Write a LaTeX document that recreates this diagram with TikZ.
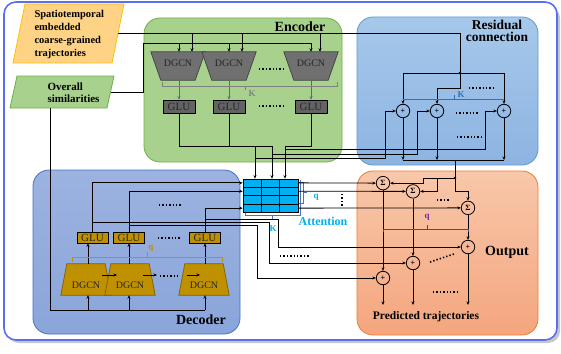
\documentclass[tikz,border=0pt]{standalone}
\usepackage{fontspec}
\setmainfont{Liberation Serif}
\usetikzlibrary{arrows.meta,calc}
\definecolor{encF}{HTML}{A9D18E}
\definecolor{encD}{HTML}{70AD47}
\definecolor{resT}{HTML}{A6C8EA}
\definecolor{resF}{HTML}{8DB4E2}
\definecolor{resD}{HTML}{5B9BD5}
\definecolor{decT}{HTML}{9CB3E0}
\definecolor{decF}{HTML}{8AA5DA}
\definecolor{decD}{HTML}{4472C4}
\definecolor{outT}{HTML}{F8C7AA}
\definecolor{outF}{HTML}{F4A67E}
\definecolor{outD}{HTML}{ED7D31}
\definecolor{gold}{HTML}{BF9000}
\definecolor{goldD}{HTML}{7F6000}
\definecolor{attC}{HTML}{00B0F0}
\definecolor{kblue}{HTML}{2E75B6}
\definecolor{bblue}{HTML}{4472C4}
\definecolor{qpurp}{HTML}{7030A0}
\definecolor{frameB}{HTML}{5B6EF0}
\definecolor{inOr}{HTML}{FFD385}
\definecolor{inOrD}{HTML}{FFC000}
\definecolor{dgE}{HTML}{707070}
\definecolor{gluE}{HTML}{636363}
\definecolor{arrg}{HTML}{55698A}
\begin{document}
\begin{tikzpicture}[x=1pt,y=-1pt,
  wire/.style={draw=black,line width=0.8pt},
  arr/.style={wire,-{Stealth[length=3.5pt,width=3pt]}},
  region/.style={rounded corners=16pt,line width=0.8pt},
  lbl/.style={font=\fontsize{14}{15}\selectfont\bfseries},
  small/.style={font=\fontsize{9}{9}\selectfont\bfseries},
  sumc/.style={circle,draw=black,line width=0.8pt,minimum size=13.5pt,inner sep=0pt,font=\fontsize{8}{8}\selectfont\bfseries},
  eglu/.style={draw=black,line width=0.6pt,fill=gluE,minimum width=32pt,minimum height=13pt,inner sep=0pt,font=\fontsize{11}{11}\selectfont,text=black!85},
  dglu/.style={draw=black,line width=0.6pt,fill=gold,minimum width=31pt,minimum height=11pt,inner sep=0pt,font=\fontsize{11}{11}\selectfont,text=black!85},
  dgbox/.style={minimum width=54pt,minimum height=28pt,inner sep=0pt},
  ddbox/.style={minimum width=50pt,minimum height=31pt,inner sep=0pt},
  dgtxt/.style={font=\fontsize{10}{10}\selectfont,text=black!85},
  dotrow/.style={line width=1.6pt,dash pattern=on 1.4pt off 2pt},
  brk/.style={line width=0.9pt},
]
\useasboundingbox (0,0) rectangle (561,353);
% frame
\fill[black!22,rounded corners=12pt] (7,6) rectangle (560,343);
\draw[fill=white,draw=frameB,line width=1.6pt,rounded corners=12pt] (4,2) rectangle (557,340);
% regions
\draw[region,fill=encF,draw=encD] (144,18) rectangle (342,162);
\draw[region,draw=resD,top color=resT,bottom color=resF] (357,17) rectangle (538,165);
\draw[region,draw=decD,top color=decT,bottom color=decF] (33,170) rectangle (240,334);
\draw[region,draw=outD,top color=outT,bottom color=outF] (357,171) rectangle (538,335);
% region labels
\node[lbl] (encl) at (300,27) {Encoder};
\node[font=\fontsize{13.5}{12}\selectfont\bfseries,align=center,inner sep=0pt] (resl) at (497,31) {Residual\\connection};
\node[lbl] (decl) at (201,320) {Decoder};
\node[lbl] (outl) at (507,252) {Output};
\node[font=\fontsize{11.5}{12}\selectfont\bfseries] (pred) at (426,317) {Predicted trajectories};
% inputs
\draw[fill=inOr,draw=inOrD,line width=0.8pt] (25,4) -- (124,4) -- (112,63) -- (13,63) -- cycle;
\node[anchor=west,align=left,font=\fontsize{10.5}{13}\selectfont\bfseries] (traj) at (31,34) {Spatiotemporal\\embedded\\coarse-grained\\trajectories};
\draw[fill=encF,draw=encD,line width=0.8pt] (17,76) -- (114,76) -- (107,108) -- (10,108) -- cycle;
\node[anchor=west,align=left,font=\fontsize{11}{12}\selectfont\bfseries] (sim) at (44,92.5) {Overall\\similarities};
\coordinate (trajR) at (118,33);
\coordinate (simR) at (110.5,92);
\coordinate (simB) at (50,108);

% ---------------- Encoder
\foreach \n/\cx in {1/178,2/229,3/311}{
  \node[dgbox] (ed\n) at (\cx,66) {};
  \draw[fill=dgE,draw=black!75,line width=0.7pt] (ed\n.north west) -- (ed\n.north east) -- ($(ed\n.south east)+(-10,0)$) -- ($(ed\n.south west)+(10,0)$) -- cycle;
  \node[dgtxt] (edt\n) at (\cx,63) {DGCN};
}
\foreach \n/\cx in {1/179,2/229,3/311}{
  \node[eglu] (eg\n) at (\cx,106.5) {GLU};
  \draw[arr,draw=arrg] (ed\n.south -| eg\n.north) -- (eg\n.north);
}
\draw[dotrow] (259,69) -- (283,69);
\draw[dotrow] (259,106) -- (283,106);
\draw[brk,draw=gray] (162,82) -- (162,86) -- (337,86) -- (337,82);
\draw[brk,draw=gray] (245,86) -- (245,90);
\node[small,text=gray] (ke) at (252,94) {K};
% inputs into encoder
\draw[wire] (trajR) -- (460,33);
\foreach \x/\n in {192/1,242/2,320/3} \draw[arr] (\x,33) -- (ed\n.north -| \x,0);
\draw[wire] (simR) -- (143,92) -- (143,43) -- (311,43);
\foreach \x/\n in {179/1,229/2,311/3} \draw[arr] (\x,43) -- (ed\n.north -| \x,0);

% ---------------- Residual
\node[sumc] (r1) at (403,111) {+};
\node[sumc] (r2) at (437,111) {+};
\node[sumc] (r3) at (504,111) {+};
\draw[arr] (460,33) -- (460,88) -| (r2.north);
\draw[wire] (403,73) -- (504,73);
\draw[arr] (403,73) -- (r1.north);
\draw[arr] (504,73) -- (r3.north);
\fill (460,73) circle (1.3);
\draw[brk,draw=kblue] (403,99) -- (504,99);
\draw[brk,draw=kblue] (454,99) -- (454,95);
\node[small,text=kblue] (kr) at (461,95) {K};
\draw[dotrow] (469,88) -- (493,88);
\draw[dotrow] (456,113) -- (478,113);
\draw[dotrow] (457,137) -- (481,137);
\foreach \r in {r1,r2,r3} \draw[arr] (\r.south) -- (\r.south |- 0,160);
\draw[wire] (403,160) -- (504,160);

% ---------------- Attention
\node[draw=black,fill=attC,minimum width=55pt,minimum height=33pt,inner sep=0pt,line width=0.7pt] (att) at (270.5,195.5) {};
\foreach \f in {0.3333,0.6667} \draw[line width=0.7pt] ($(att.north west)!\f!(att.north east)$) -- ($(att.south west)!\f!(att.south east)$);
\foreach \f in {0.25,0.5,0.75} \draw[line width=0.7pt] ($(att.north west)!\f!(att.south west)$) -- ($(att.north east)!\f!(att.south east)$);
\coordinate (aL1) at ($(att.north west)!0.125!(att.south west)$);
\coordinate (aL2) at ($(att.north west)!0.375!(att.south west)$);
\coordinate (aL4) at ($(att.north west)!0.875!(att.south west)$);
\coordinate (aR1) at ($(att.north east)!0.125!(att.south east)$);
\coordinate (aR2) at ($(att.north east)!0.375!(att.south east)$);
\coordinate (aR4) at ($(att.north east)!0.875!(att.south east)$);
\draw[brk,draw=bblue] (245,212.5) -- (245,215) -- (300.5,215) -- (300.5,180);
\draw[brk,draw=bblue] (272,215) -- (272,219);
\draw[brk,draw=bblue] (299,182) -- (303,182) -- (303,203) -- (299,203);
\draw[brk,draw=bblue] (303,192.5) -- (307,192.5);
\node[small,text=attC] (qa) at (316,197) {q};
\node[small,text=attC] (ka) at (273,229) {K};
\node[font=\fontsize{12}{12}\selectfont\bfseries,text=attC] (attl) at (323,221) {Attention};
% encoder -> attention / residual
\draw[wire] (eg1.south) -- (179,146) -- (272,146);
\draw[wire] (eg2.south) -- (229,146);
\draw[arr] (255,146) -- (att.north -| 255,0);
\draw[arr] (272,146) -- (att.north -| 272,0);
\draw[arr] (eg3.south) -- (311,146) -- (285,146) -- (att.north -| 285,0);
\draw[arr] (285,149) -| (485,111) -- (r3.west);
\draw[arr] (272,154) -| (417,111) -- (r2.west);
\draw[arr] (255,158) -| (385,111) -- (r1.west);

% ---------------- Output
\node[sumc] (s1) at (383,183.125) {Σ};
\node[sumc] (s2) at (413,191.375) {Σ};
\node[sumc] (s3) at (468,207.875) {Σ};
\node[sumc] (p1) at (383,278) {+};
\node[sumc] (p2) at (413,263) {+};
\node[sumc] (p3) at (468,247) {+};
\draw[wire] (455,160) -- (455,178);
\fill (455,178) circle (1.3);
\draw[arr] (455,178) -| (423,183.125) -- (s1.east);
\draw[arr] (437,178) |- (s2.east);
\draw[arr] (455,178) -- (455,191) -| (s3.north);
\draw[arr] (aR1) -- (s1.west);
\draw[arr] (aR2) -- (s2.west);
\draw[arr] (aR4) -- (s3.west);
\draw[line width=1.4pt,dash pattern=on 1.4pt off 2pt] (342,194) -- (342,207);
\draw[dotrow] (437,200) -- (449,200);
\draw[arr] (s1.south) -- (p1.north);
\draw[arr] (s2.south) -- (p2.north);
\draw[arr] (s3.south) -- (p3.north);
\coordinate (o1) at (383,305);
\coordinate (o2) at (413,305);
\coordinate (o3) at (468,305);
\draw[arr] (p1.south) -- (o1);
\draw[arr] (p2.south) -- (o2);
\draw[arr] (p3.south) -- (o3);
\draw[brk,draw=qpurp] (383,232) -- (383,229) -- (468,229) -- (468,232);
\draw[brk,draw=qpurp] (427,229) -- (427,225);
\node[small,text=qpurp] (qo) at (427,217) {q};
\draw[dotrow] (430,262) -- (454,254);
\draw[dotrow] (433,292) -- (457,292);
\draw[dotrow] (280,256) -- (309,256);

% ---------------- Decoder
\foreach \n/\cx in {1/86,2/130,3/204}{
  \node[ddbox] (dd\n) at (\cx,279.5) {};
  \draw[fill=gold,draw=goldD,line width=0.7pt] ($(dd\n.north west)+(6,0)$) -- ($(dd\n.north east)+(-6,0)$) -- (dd\n.south east) -- (dd\n.south west) -- cycle;
  \node[dgtxt] (ddt\n) at (\cx,285) {DGCN};
}
\node[dglu] (dg1) at (92.5,237.5) {GLU};
\node[dglu] (dg2) at (129,237.5) {GLU};
\node[dglu] (dg3) at (205,237.5) {GLU};
\draw[arr] (dd1.north -| 88,0) -- (dg1.south -| 88,0);
\draw[arr] (dd2.north -| 129,0) -- (dg2.south);
\draw[arr] (dd3.north -| 205,0) -- (dg3.south);
\draw[arr] (102,275) -- (117,275);
\draw[arr] (143,275) -- (157,275);
\draw[dotrow] (160,276) -- (180,276);
\draw[arr] (187,275) -- (200,275);
\draw[brk,draw=gold] (72,262) -- (72,257) -- (222,257) -- (222,262);
\draw[brk,draw=gold] (147,257) -- (147,252);
\node[small,text=gold] (qd) at (151,248) {q};
\draw[dotrow] (158,238) -- (180,238);
\draw[dotrow] (159,205) -- (182,205);
% similarity into decoder
\draw[wire] (simB) -- (50,310) -- (205,310);
\draw[arr] (88,310) -- (dd1.south -| 88,0);
\draw[arr] (129,310) -- (dd2.south -| 129,0);
\draw[arr] (205,310) -- (dd3.south -| 205,0);
% decoder -> attention
\draw[arr] (dg1.north) |- (aL1);
\draw[arr] (dg2.north) |- (aL2);
\draw[arr] (dg3.north) |- (aL4);
% decoder -> output adders
\draw[arr] (205,219) -| (278,247) -- (p3.west);
\draw[arr] (92.5,222) -| (269,263) -- (p2.west);
\draw[arr] (129,225) -| (257,278) -- (p1.west);
\end{tikzpicture}
\end{document}
